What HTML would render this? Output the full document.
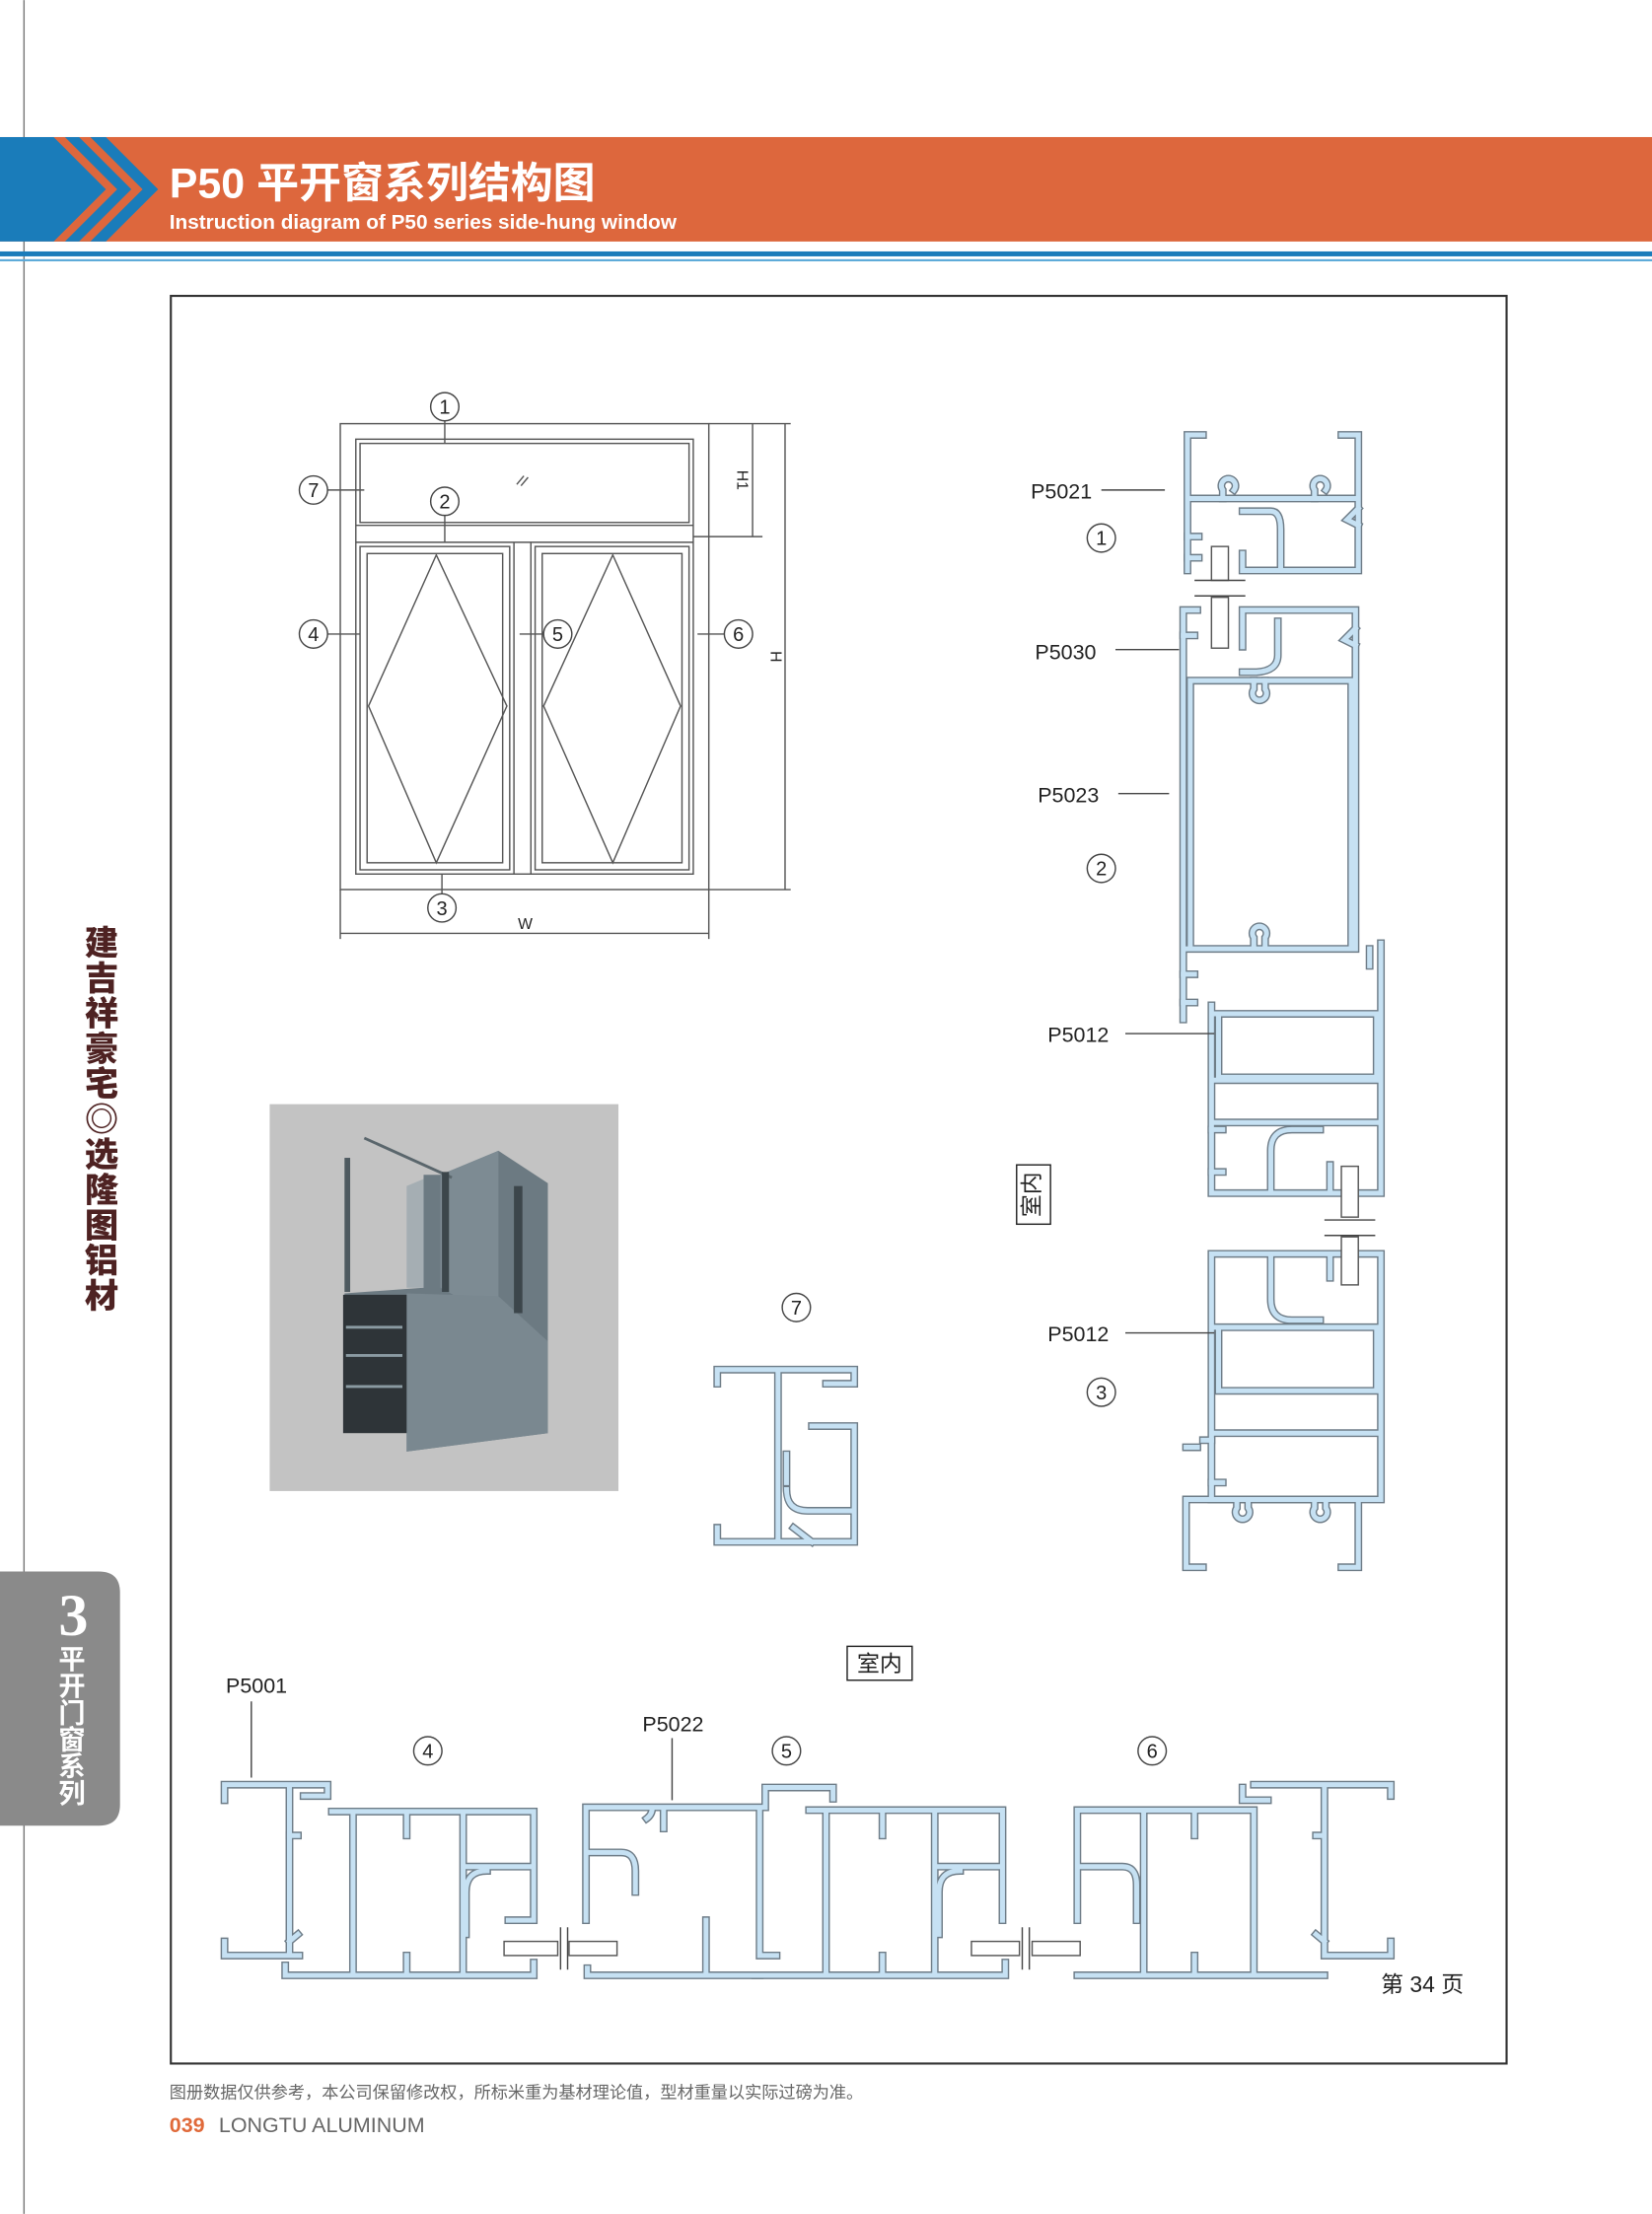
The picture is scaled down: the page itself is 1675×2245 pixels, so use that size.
<!DOCTYPE html>
<html><head><meta charset="utf-8"><style>
html,body{margin:0;padding:0;background:#fff}
svg{display:block}
</style></head><body>
<svg width="1675" height="2245" viewBox="0 0 1170 1568" xmlns="http://www.w3.org/2000/svg" font-family="Liberation Sans, Noto Sans CJK SC, sans-serif">
<defs>
<g id="pA" fill="none">
 <path d="M852,308 H841 V404 M841,353 H962 M950,308 H962 V404 H880 V392 M880,362 H900 Q907,362 907,375 V404"/>
 <path d="M866,353 v-6 a5,5 0 1 1 8,0 M931,353 v-6 a5,5 0 1 1 8,0"/>
 <path d="M841,380 h8 M841,395 h8 M962,360 l-8,8 l8,4"/>
</g>
<g id="pB" fill="none">
 <path d="M838,432 H848 M838,432 V722 M880,432 H960 V672 H838 M880,432 V458 M843,482 H957 M843,484 V670 M957,484 V670"/>
 <path d="M905,440 V464 Q905,475 890,476 H880"/>
 <path d="M888,482 v6 a5,5 0 1 0 8,0 v-6 M888,670 v-6 a5,5 0 1 1 8,0 v6"/>
 <path d="M838,450 h8 M838,690 h8 M838,710 h8 M960,445 l-8,8 l8,4"/>
</g>
<g id="pC" fill="none">
 <path d="M858,712 V845 H975 M978,668 V845 M858,718 H978 M863,720 V763 H975 V720 M858,765 H978 M858,795 H978 M900,845 V815 Q900,800 915,800 H935 M942,825 V845"/>
 <path d="M858,800 h8 M858,830 h8 M970,672 v12"/>
</g>
<g id="pD" fill="none">
 <path d="M858,888 V1062 H978 M978,888 V1062 M858,940 H978 M863,942 V985 H975 V942 M858,1015 H978 M858,888 H978 M900,888 V920 Q900,935 915,935 H935 M942,888 V905"/>
 <path d="M858,1020 h-6 M858,1050 h8"/>
</g>
<g id="pE" fill="none">
 <path d="M840,1062 H962 M840,1062 V1110 H852 M962,1062 V1110 H950"/>
 <path d="M876,1062 v6 a5,5 0 1 0 8,0 v-6 M931,1062 v6 a5,5 0 1 0 8,0 v-6 M840,1025 H848"/>
</g>
<g id="p7" fill="none">
 <path d="M508,980 V970 H605 V980 H585 M551,970 V1092 M508,1082 V1092 H605 V1010 H575 M557,1055 Q557,1070 572,1070 H603 M557,1030 V1050 M562,1082 L575,1092"/>
</g>
<g id="p4" fill="none">
 <path d="M159,1275 V1264 H232 V1272 H215 M205,1264 V1385 M159,1375 V1385 H212"/>
 <path d="M205,1300 h6 M205,1375 l6,-5"/>
 <path d="M235,1283 H378 V1360 H360 M250,1283 V1398 M328,1283 V1398 M202,1399 H378 V1390 M202,1399 V1392 M288,1283 V1300 M288,1385 V1398 M330,1322 H378 M330,1370 V1340 Q330,1325 345,1325"/>
</g>
<g id="p5" fill="none">
 <path d="M415,1360 V1280 H542 V1266 H590 V1274 M538,1280 V1385 H550 M470,1280 V1295 M415,1312 H440 Q450,1312 450,1325 V1340 M416,1394 V1399 H538 M462,1280 Q462,1285 458,1288 M500,1360 V1398"/>
 <path d="M573,1282 H710 V1360 M585,1282 V1399 M662,1282 V1399 M535,1399 H712 V1390 M625,1282 V1300 M625,1385 V1398 M665,1322 H710 M665,1370 V1340 Q665,1325 680,1325"/>
</g>
<g id="p6" fill="none">
 <path d="M763,1360 V1282 H888 M810,1282 V1399 M888,1282 V1399 M846,1282 V1300 M846,1385 V1398 M763,1322 H795 Q805,1322 805,1335 V1360 M763,1399 H938"/>
 <path d="M888,1264 H985 V1272 M938,1264 V1385 M880,1266 V1275 H898 M938,1385 H985 V1375 M938,1300 h-6 M938,1375 l-6,-5"/>
</g>
</defs>

<line x1="17" y1="0" x2="17" y2="1568" stroke="#777" stroke-width="1"/>
<rect x="0" y="97" width="1170" height="74" fill="#dd673d"/>
<polygon points="0,97 75,97 112,134 75,171 0,171" fill="#1a7cba"/>
<polygon points="38,97 46,97 83,134 46,171 38,171 75,134" fill="#dd673d"/>
<polygon points="56,97 64,97 101,134 64,171 56,171 93,134" fill="#dd673d"/>
<text x="120" y="140" font-size="30" font-weight="bold" fill="#fff">P50 平开窗系列结构图</text>
<text x="120" y="162" font-size="14.5" font-weight="bold" fill="#fff">Instruction diagram of P50 series side-hung window</text>
<rect x="0" y="178" width="1170" height="3.5" fill="#1a7cba"/>
<rect x="0" y="183.5" width="1170" height="1.5" fill="#5aa8d8"/>

<text x="72" y="655" font-size="24" font-weight="900" fill="#4e2222" style="writing-mode:vertical-rl;letter-spacing:1px" font-family="Noto Sans CJK SC, sans-serif">建吉祥豪宅◎选隆图铝材</text>
<path d="M0,1113 H70 Q85,1113 85,1128 V1278 Q85,1293 70,1293 H0 Z" fill="#8a8a8a"/>
<text x="52" y="1158" font-size="42" font-weight="bold" fill="#fff" text-anchor="middle" font-family="Liberation Serif, serif">3</text>
<text x="51" y="1165" font-size="19" font-weight="bold" fill="#fff" style="writing-mode:vertical-rl" font-family="Noto Sans CJK SC, sans-serif">平开门窗系列</text>

<rect x="121" y="209.5" width="946" height="1252" fill="none" stroke="#333" stroke-width="1.5"/>

<g fill="none" stroke="#555" stroke-width="1">
 <rect x="241" y="300" width="261" height="330"/>
 <rect x="252" y="311" width="239" height="308"/>
 <rect x="255" y="314" width="233" height="56"/>
 <line x1="252" y1="372" x2="491" y2="372"/><line x1="252" y1="384" x2="491" y2="384"/>
 <line x1="364" y1="384" x2="364" y2="619"/><line x1="376" y1="384" x2="376" y2="619"/>
 <rect x="255" y="387" width="106" height="229"/><rect x="260" y="392" width="96" height="219"/>
 <rect x="379" y="387" width="109" height="229"/><rect x="384" y="392" width="99" height="219"/>
 <polygon points="309,393 359,500 309,611 261,500"/>
 <polygon points="434,393 482,500 434,611 385,500"/>
 <line x1="502" y1="300" x2="560" y2="300"/><line x1="491" y1="380" x2="540" y2="380"/><line x1="502" y1="630" x2="560" y2="630"/>
 <line x1="533" y1="300" x2="533" y2="380"/><line x1="556" y1="300" x2="556" y2="630"/>
 <line x1="241" y1="630" x2="241" y2="665"/><line x1="502" y1="630" x2="502" y2="665"/>
 <line x1="241" y1="661" x2="502" y2="661"/>
 <line x1="315" y1="298" x2="315" y2="314"/><line x1="232" y1="347" x2="258" y2="347"/>
 <line x1="315" y1="365" x2="315" y2="384"/><line x1="232" y1="449" x2="255" y2="449"/>
 <line x1="368" y1="449" x2="385" y2="449"/><line x1="494" y1="449" x2="513" y2="449"/>
 <line x1="313" y1="619" x2="313" y2="633"/>
 <line x1="366" y1="343" x2="371" y2="337"/><line x1="369" y1="344" x2="374" y2="338"/>
</g>
<g fill="#fff" stroke="#444" stroke-width="1">
 <circle cx="315" cy="288" r="10"/><circle cx="222" cy="347" r="10"/><circle cx="315" cy="355" r="10"/>
 <circle cx="222" cy="449" r="10"/><circle cx="395" cy="449" r="10"/><circle cx="523" cy="449" r="10"/><circle cx="313" cy="643" r="10"/>
</g>
<g font-size="14" fill="#222" text-anchor="middle">
 <text x="315" y="293">1</text><text x="222" y="352">7</text><text x="315" y="360">2</text>
 <text x="222" y="454">4</text><text x="395" y="454">5</text><text x="523" y="454">6</text><text x="313" y="648">3</text>
 <text x="372" y="658" font-size="11">W</text>
 <text x="522" y="340" font-size="11" transform="rotate(90 522 340)">H1</text>
 <text x="546" y="465" font-size="11" transform="rotate(90 546 465)">H</text>
</g>

<rect x="191" y="782" width="247" height="274" fill="#c3c3c3"/>
<polygon points="300,832 312,832 353,815 388,838 388,1015 288,1028 288,995 244,990 244,916 300,912" fill="#6c7a82"/>
<polygon points="312,832 353,815 353,935 312,912" fill="#7d8b93"/>
<polygon points="288,912 300,912 300,835 288,840" fill="#a5aeb3"/>
<rect x="243" y="917" width="47" height="98" fill="#2e3438"/>
<g stroke="#8a9aa2" stroke-width="2"><line x1="245" y1="940" x2="285" y2="940"/><line x1="245" y1="960" x2="285" y2="960"/><line x1="245" y1="982" x2="285" y2="982"/></g>
<polygon points="288,916 353,918 388,950 388,1015 288,1028" fill="#7a8890"/>
<rect x="244" y="820" width="4" height="95" fill="#4e5a60"/>
<line x1="258" y1="806" x2="320" y2="834" stroke="#5a666c" stroke-width="2"/>
<rect x="364" y="840" width="6" height="90" fill="#3c464b"/>
<rect x="313" y="830" width="5" height="85" fill="#3c464b"/>

<g stroke="#6e7c87" stroke-width="5.5" stroke-linecap="square">
 <use href="#pA"/><use href="#pB"/><use href="#pC"/><use href="#pD"/><use href="#pE"/><use href="#p7"/><use href="#p4"/><use href="#p5"/><use href="#p6"/>
</g>
<g stroke="#c6e1f3" stroke-width="3.5" stroke-linecap="square">
 <use href="#pA"/><use href="#pB"/><use href="#pC"/><use href="#pD"/><use href="#pE"/><use href="#p7"/><use href="#p4"/><use href="#p5"/><use href="#p6"/>
</g>
<g fill="#fff" stroke="#555" stroke-width="1">
 <rect x="858" y="387" width="12" height="24"/><rect x="858" y="423" width="12" height="36"/>
 <rect x="950" y="826" width="12" height="36"/><rect x="950" y="876" width="12" height="34"/>
 <rect x="357" y="1375" width="38" height="10"/><rect x="403" y="1375" width="34" height="10"/>
 <rect x="688" y="1375" width="34" height="10"/><rect x="731" y="1375" width="34" height="10"/>
</g>
<g stroke="#444" stroke-width="1">
 <line x1="846" y1="411" x2="882" y2="411"/><line x1="846" y1="422" x2="882" y2="422"/>
 <line x1="938" y1="864" x2="974" y2="864"/><line x1="938" y1="875" x2="974" y2="875"/>
 <line x1="397" y1="1365" x2="397" y2="1395"/><line x1="402" y1="1365" x2="402" y2="1395"/>
 <line x1="724" y1="1365" x2="724" y2="1395"/><line x1="729" y1="1365" x2="729" y2="1395"/>
</g>

<g font-size="15" fill="#222">
 <text x="730" y="353">P5021</text><text x="733" y="467">P5030</text><text x="735" y="568">P5023</text>
 <text x="742" y="738">P5012</text><text x="742" y="950">P5012</text>
 <text x="160" y="1199">P5001</text><text x="455" y="1226">P5022</text>
 <text x="978" y="1411" font-size="16">第 34 页</text>
</g>
<g stroke="#444" stroke-width="1">
 <line x1="780" y1="347" x2="825" y2="347"/><line x1="790" y1="460" x2="835" y2="460"/>
 <line x1="792" y1="562" x2="828" y2="562"/><line x1="797" y1="732" x2="860" y2="732"/>
 <line x1="797" y1="944" x2="860" y2="944"/><line x1="178" y1="1205" x2="178" y2="1259"/>
 <line x1="476" y1="1231" x2="476" y2="1275"/>
</g>
<g fill="#fff" stroke="#444" stroke-width="1">
 <circle cx="780" cy="381" r="10"/><circle cx="780" cy="615" r="10"/><circle cx="780" cy="986" r="10"/>
 <circle cx="564" cy="926" r="10"/><circle cx="303" cy="1240" r="10"/><circle cx="557" cy="1240" r="10"/><circle cx="816" cy="1240" r="10"/>
 <rect x="720" y="825" width="24" height="42" stroke="#222"/>
 <rect x="600" y="1166" width="46" height="24" stroke="#222"/>
</g>
<g font-size="14" fill="#222" text-anchor="middle">
 <text x="780" y="386">1</text><text x="780" y="620">2</text><text x="780" y="991">3</text>
 <text x="564" y="931">7</text><text x="303" y="1245">4</text><text x="557" y="1245">5</text><text x="816" y="1245">6</text>
 <text x="623" y="1184" font-size="16">室内</text>
 <text x="732" y="846" font-size="16" transform="rotate(-90 732 846)" dominant-baseline="middle">室内</text>
</g>

<text x="120" y="1486" font-size="12" fill="#666">图册数据仅供参考，本公司保留修改权，所标米重为基材理论值，型材重量以实际过磅为准。</text>
<text x="120" y="1510" font-size="15" font-weight="bold" fill="#e06a3a">039</text>
<text x="155" y="1510" font-size="15" fill="#666">LONGTU ALUMINUM</text>
</svg>
</body></html>
